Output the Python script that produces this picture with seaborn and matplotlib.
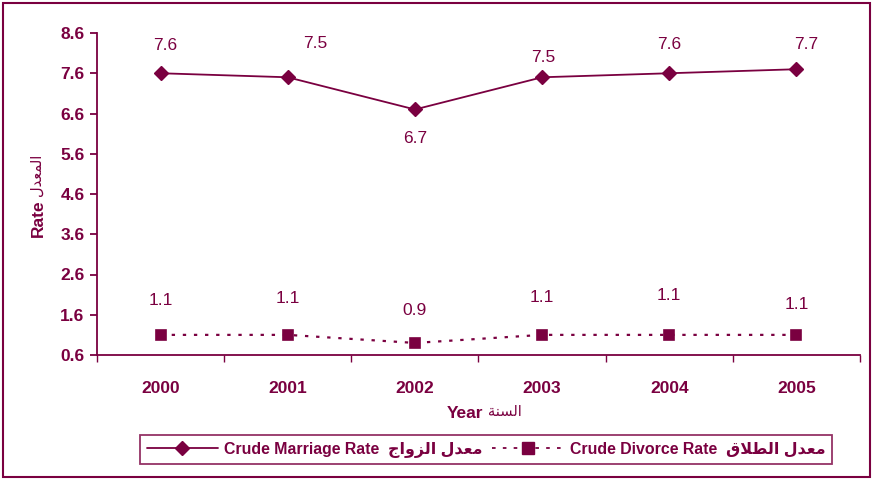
import matplotlib
matplotlib.use("Agg")
import matplotlib.pyplot as plt
from matplotlib.lines import Line2D
from matplotlib.patches import Rectangle
import seaborn as sns
import pandas as pd

# ---------------- data ----------------
years = ["2000", "2001", "2002", "2003", "2004", "2005"]
marriage = [7.6, 7.5, 6.7, 7.5, 7.6, 7.7]
divorce = [1.1, 1.1, 0.9, 1.1, 1.1, 1.1]
yticks = [0.6, 1.6, 2.6, 3.6, 4.6, 5.6, 6.6, 7.6, 8.6]
marriage_name = ("Crude Marriage Rate", "معدل الزواج")
divorce_name = ("Crude Divorce Rate", "معدل الطلاق")
xlabel_text = ("Year", "السنة")
ylabel_text = ("Rate", "المعدل")

# label offsets (points) - layout only
m_off = [(3, 20), (20, 24), (0, -21), (1, 14), (0, 21), (7, 18)]
d_off = [(0, 25), (0, 26), (0, 23), (0, 27), (0, 28), (0, 22)]

MAROON = "#7A0040"

# ---------- minimal Arabic shaping (presentation forms, visual order) ----------
FORMS = {
    "ا": ("\uFE8D", "\uFE8E", None, None),
    "ل": ("\uFEDD", "\uFEDE", "\uFEDF", "\uFEE0"),
    "م": ("\uFEE1", "\uFEE2", "\uFEE3", "\uFEE4"),
    "ع": ("\uFEC9", "\uFECA", "\uFECB", "\uFECC"),
    "د": ("\uFEA9", "\uFEAA", None, None),
    "ز": ("\uFEAF", "\uFEB0", None, None),
    "و": ("\uFEED", "\uFEEE", None, None),
    "ج": ("\uFE9D", "\uFE9E", "\uFE9F", "\uFEA0"),
    "س": ("\uFEB1", "\uFEB2", "\uFEB3", "\uFEB4"),
    "ن": ("\uFEE5", "\uFEE6", "\uFEE7", "\uFEE8"),
    "ة": ("\uFE93", "\uFE94", None, None),
    "ط": ("\uFEC1", "\uFEC2", "\uFEC3", "\uFEC4"),
    "ق": ("\uFED5", "\uFED6", "\uFED7", "\uFED8"),
}


def dual(c):
    return c in FORMS and FORMS[c][2] is not None


def shape(text):
    out = []
    i = 0
    n = len(text)
    while i < n:
        c = text[i]
        if c not in FORMS:
            out.append(c)
            i += 1
            continue
        prev = text[i - 1] if i > 0 else ""
        jp = dual(prev)
        if c == "ل" and i + 1 < n and text[i + 1] == "ا":
            out.append("\uFEFC" if jp else "\uFEFB")
            i += 2
            continue
        nxt = text[i + 1] if i + 1 < n else ""
        jn = dual(c) and nxt in FORMS
        iso, fin, ini, med = FORMS[c]
        if jp and jn:
            out.append(med)
        elif jp:
            out.append(fin)
        elif jn:
            out.append(ini)
        else:
            out.append(iso)
        i += 1
    return "".join(reversed(out))


def mixed(pair):
    return pair[0] + "  " + shape(pair[1])


# ---------------- plot ----------------
sns.set_theme(style="white")
plt.rcParams["font.family"] = ["Liberation Sans", "DejaVu Sans"]

fig = plt.figure(figsize=(8.73, 4.8), dpi=100)
ax = fig.add_axes([97 / 873, 1 - 355 / 480, (860 - 97) / 873, (355 - 33) / 480])

df = pd.DataFrame({"Year": years, "Marriage": marriage, "Divorce": divorce})

sns.pointplot(data=df, x="Year", y="Marriage", color=MAROON, markers="D",
              linestyles="-", ax=ax, markersize=7, linewidth=1.3, errorbar=None)
sns.pointplot(data=df, x="Year", y="Divorce", color=MAROON, markers="s",
              linestyles=(0, (1.5, 3.5)), ax=ax, markersize=7.5, linewidth=1.6,
              errorbar=None)
ax.set_xlabel("")
ax.set_ylabel("")

for i, (v, o) in enumerate(zip(marriage, m_off)):
    ax.annotate(f"{v:.1f}", (i, v), xytext=o, textcoords="offset points",
                ha="center", va="center", color=MAROON, fontsize=12.5)
for i, (v, o) in enumerate(zip(divorce, d_off)):
    ax.annotate(f"{v:.1f}", (i, v), xytext=o, textcoords="offset points",
                ha="center", va="center", color=MAROON, fontsize=12.5)

ax.set_xlim(-0.5, len(years) - 0.5)
ax.set_ylim(yticks[0], yticks[-1])
ax.set_yticks(yticks)
ax.set_yticklabels([f"{t:.1f}" for t in yticks])
ax.set_xticks(range(len(years)))
ax.set_xticklabels(years)
ax.set_xticks([i + 0.5 for i in range(-1, len(years))], minor=True)

for s in ["top", "right"]:
    ax.spines[s].set_visible(False)
for s in ["left", "bottom"]:
    ax.spines[s].set_color(MAROON)
    ax.spines[s].set_linewidth(1.3)

ax.tick_params(axis="y", which="major", direction="out", length=5, width=1.3,
               color=MAROON, labelcolor=MAROON, labelsize=12.5, pad=4, left=True)
ax.tick_params(axis="x", which="major", length=0, labelcolor=MAROON,
               labelsize=12.5, pad=19)
ax.tick_params(axis="x", which="minor", direction="out", length=5, width=1.0,
               color=MAROON, bottom=True)
for lab in ax.get_xticklabels() + ax.get_yticklabels():
    lab.set_fontweight("bold")
ax.grid(False)

# axis titles: Latin part bold, Arabic part regular
fig.text(483 / 873, 1 - 413 / 480, xlabel_text[0], color=MAROON, fontsize=12.5,
         fontweight="bold", ha="right", va="center")
fig.text(488 / 873, 1 - 412 / 480, shape(xlabel_text[1]), color=MAROON,
         fontsize=10.5, ha="left", va="center")
fig.text(38 / 873, 1 - 218 / 480, ylabel_text[0], color=MAROON, fontsize=12.5,
         fontweight="bold", rotation=90, ha="center", va="center")
fig.text(37 / 873, 1 - 175 / 480, shape(ylabel_text[1]), color=MAROON,
         fontsize=10.5, rotation=90, ha="center", va="center")

handles = [
    Line2D([], [], color=MAROON, marker="D", linestyle="-", markersize=7, linewidth=1.3),
    Line2D([], [], color=MAROON, marker="s", linestyle=(0, (2, 4)), markersize=8, linewidth=1.3),
]
leg = fig.legend(handles, [mixed(marriage_name), mixed(divorce_name)],
                 loc="center", bbox_to_anchor=(486 / 873, 1 - 449.5 / 480),
                 ncol=2, frameon=True, fancybox=False, handlelength=4.5,
                 columnspacing=0.6, handletextpad=0.4, borderpad=0.4,
                 prop={"weight": "bold", "size": 11.4})
leg.get_frame().set_edgecolor(MAROON)
leg.get_frame().set_linewidth(1.3)
for t in leg.get_texts():
    t.set_color(MAROON)

fig.patches.append(Rectangle((3 / 873, 3 / 480), 867 / 873, 474 / 480,
                             transform=fig.transFigure, fill=False,
                             edgecolor=MAROON, linewidth=1.5))

fig.savefig("out.png", dpi=100)
